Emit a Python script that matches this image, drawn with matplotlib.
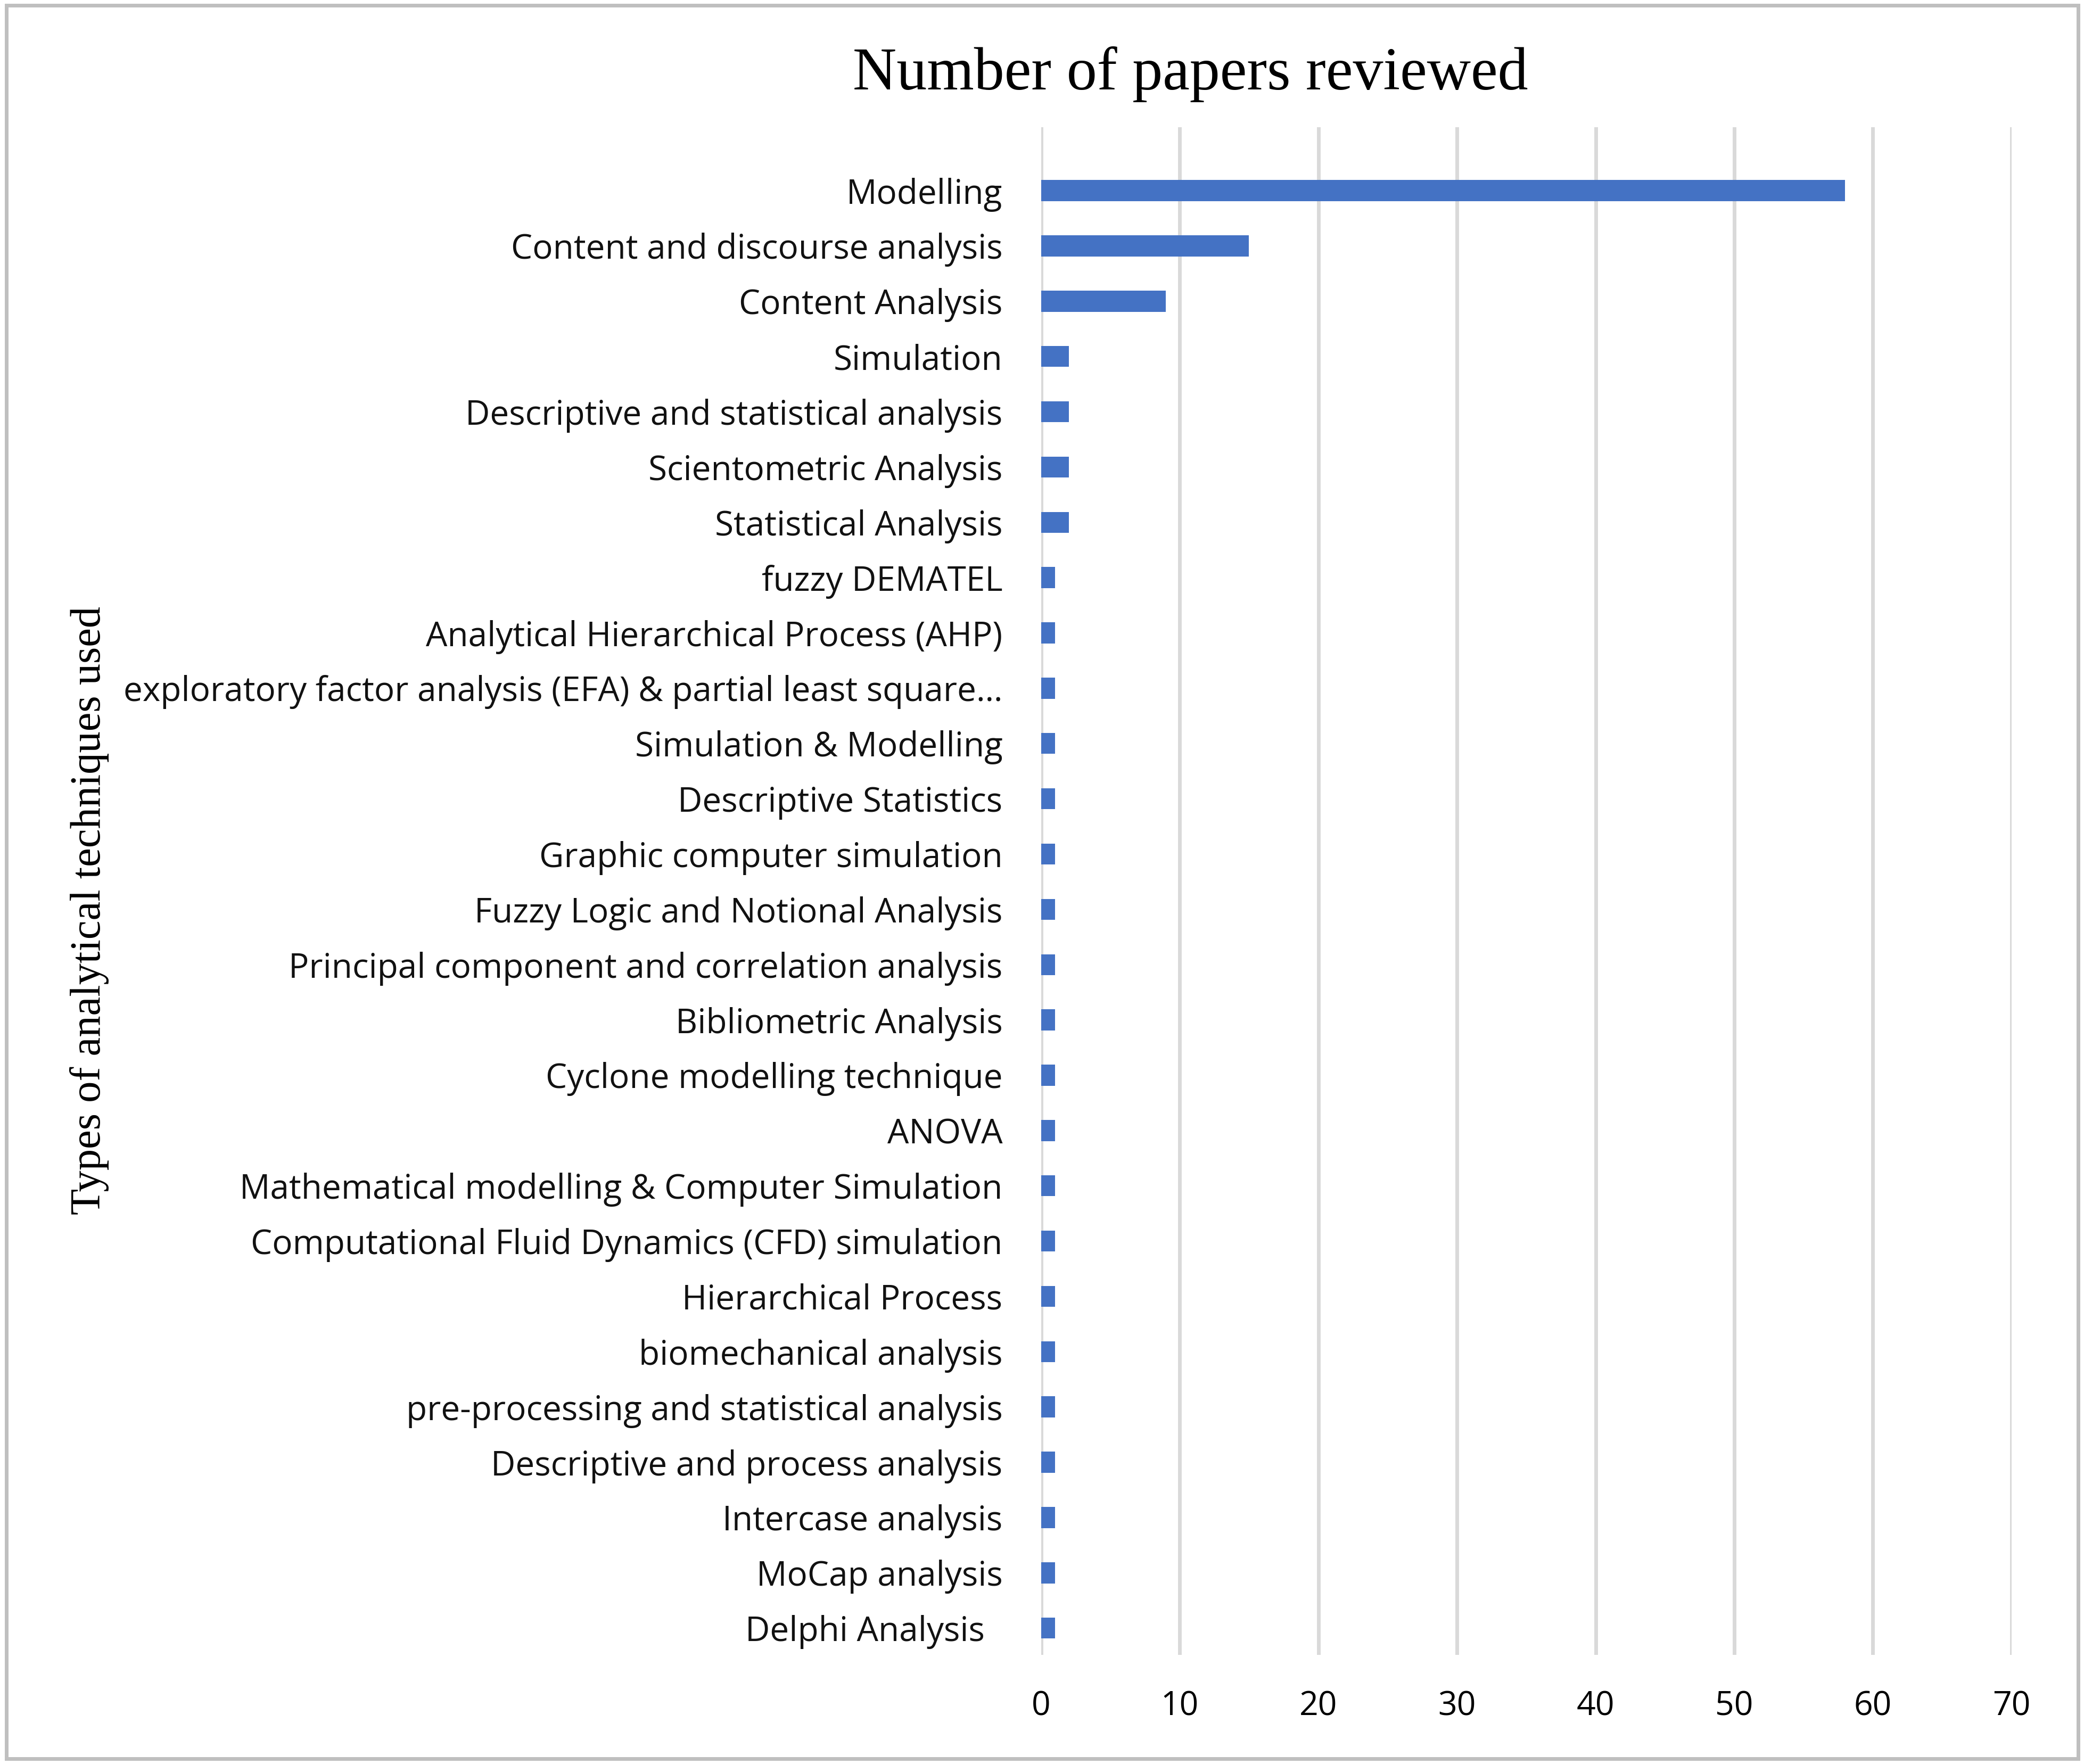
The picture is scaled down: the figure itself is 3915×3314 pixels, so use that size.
import matplotlib.pyplot as plt
from matplotlib.patches import Rectangle

techniques = [
    "Modelling", "Content and discourse analysis", "Content Analysis", "Simulation",
    "Descriptive and statistical analysis", "Scientometric Analysis", "Statistical Analysis",
    "fuzzy DEMATEL", "Analytical Hierarchical Process (AHP)",
    "exploratory factor analysis (EFA) & partial least square\u2026",
    "Simulation & Modelling", "Descriptive Statistics", "Graphic computer simulation",
    "Fuzzy Logic and Notional Analysis", "Principal component and correlation analysis",
    "Bibliometric Analysis", "Cyclone modelling technique", "ANOVA",
    "Mathematical modelling & Computer Simulation",
    "Computational Fluid Dynamics (CFD) simulation", "Hierarchical Process",
    "biomechanical analysis", "pre-processing and statistical analysis",
    "Descriptive and process analysis", "Intercase analysis", "MoCap analysis",
    "Delphi Analysis  ",
]
papers = [58, 15, 9, 2, 2, 2, 2] + [1] * 20
xticks = [0, 10, 20, 30, 40, 50, 60, 70]

fig = plt.figure(figsize=(39.16, 33.14), dpi=100)
ax = fig.add_axes([0.4994, 0.062, 0.4656, 0.866])
pos = list(range(len(techniques)))
ax.barh(pos, papers, height=0.38, color="#4472C4", zorder=3)
ax.set_ylim(len(techniques) - 0.52, -1.15)
ax.set_xlim(0, 70)
ax.set_xticks(xticks)
ax.set_yticks(pos)
ax.set_yticklabels(techniques, fontsize=46, family="Open Sans", color="#111111")
ax.tick_params(axis="x", labelsize=45, length=0, pad=48)
for lbl in ax.get_xticklabels():
    lbl.set_family("Open Sans")
ax.tick_params(axis="y", length=0, pad=52)
ax.grid(axis="x", color="#D9D9D9", linewidth=5, zorder=0)
for s in ax.spines.values():
    s.set_visible(False)

fig.text(0.571, 0.958, "Number of papers reviewed", ha="center", va="center",
         fontsize=82, family="Liberation Serif")
fig.text(0.043, 0.484, "Types of analytical techniques used", ha="center", va="center",
         rotation=90, fontsize=58, family="Liberation Serif")
fig.patches.append(Rectangle((0.003, 0.003), 0.994, 0.994, transform=fig.transFigure,
                             fill=False, edgecolor="#BFBFBF", linewidth=5))
fig.savefig("out.png", dpi=100)
